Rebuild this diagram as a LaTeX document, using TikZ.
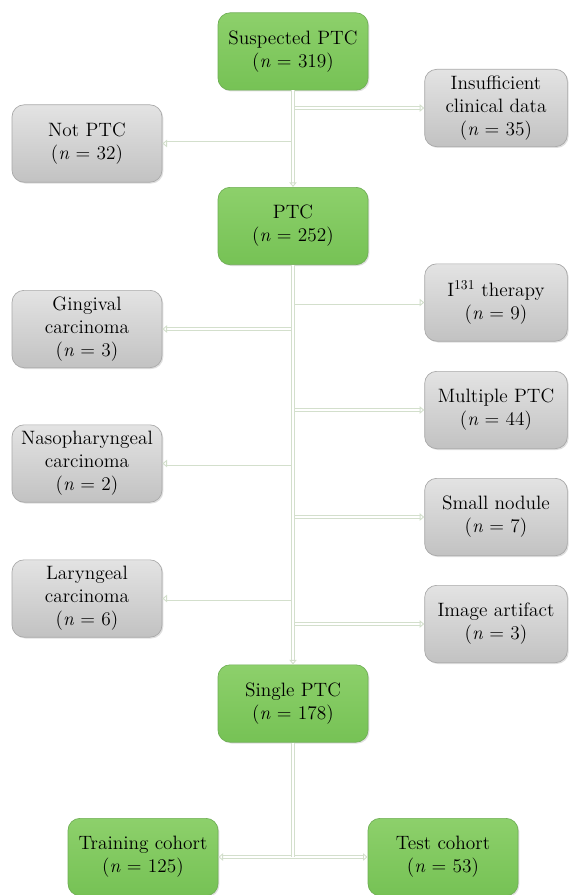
\documentclass[tikz,border=0pt]{standalone}
\usetikzlibrary{arrows.meta,shadows}
\definecolor{gtop}{HTML}{8DD06B}
\definecolor{gbot}{HTML}{76C255}
\definecolor{gedge}{HTML}{6FAE55}
\definecolor{ytop}{HTML}{E3E3E3}
\definecolor{ybot}{HTML}{C2C2C2}
\definecolor{yedge}{HTML}{A8A8A8}
\definecolor{lnc}{HTML}{D3DFCC}
\begin{document}
\begin{tikzpicture}[x=0.75pt,y=-0.75pt,
  every node/.style={font=\fontsize{14.5}{17.2}\selectfont, align=center, inner sep=0pt},
  greenbox/.style={rectangle, rounded corners=9pt, draw=gedge, line width=0.5pt,
     top color=gtop, bottom color=gbot, minimum width=112.5pt, minimum height=58pt,
     drop shadow={opacity=0.25, shadow xshift=1pt, shadow yshift=-1pt}},
  graybox/.style={rectangle, rounded corners=9pt, draw=yedge, line width=0.5pt,
     top color=ytop, bottom color=ybot, minimum width=112.5pt, minimum height=58pt,
     drop shadow={opacity=0.25, shadow xshift=1pt, shadow yshift=-1pt}},
  grayboxr/.style={graybox, minimum width=107pt},
  conn/.style={draw=lnc, line width=0.7pt, double=white, double distance=1.6pt},
  arr/.style={conn, -{Triangle[open, length=3.5pt, width=5.5pt]}}
]
\useasboundingbox (0,0) rectangle (573,895);

% green main boxes
\node[greenbox] (sus) at (293,51.5) {Suspected PTC\\(\textit{n} = 319)};
\node[greenbox] (ptc) at (293,226) {PTC\\(\textit{n} = 252)};
\node[greenbox] (single) at (293,703.5) {Single PTC\\(\textit{n} = 178)};
\node[greenbox] (train) at (143,857) {Training cohort\\(\textit{n} = 125)};
\node[greenbox] (test) at (443,857) {Test cohort\\(\textit{n} = 53)};

% left gray boxes
\node[graybox] (notptc) at (87,143.5) {Not PTC\\(\textit{n} = 32)};
\node[graybox] (ging) at (87,329) {Gingival\\carcinoma\\(\textit{n} = 3)};
\node[graybox] (naso) at (87,463.5) {Nasopharyngeal\\carcinoma\\(\textit{n} = 2)};
\node[graybox] (lary) at (87,598.5) {Laryngeal\\carcinoma\\(\textit{n} = 6)};

% right gray boxes
\node[grayboxr] (ins) at (496,108) {Insufficient\\clinical data\\(\textit{n} = 35)};
\node[grayboxr] (iod) at (496,302.5) {I\textsuperscript{131} therapy\\(\textit{n} = 9)};
\node[grayboxr] (mult) at (496,410) {Multiple PTC\\(\textit{n} = 44)};
\node[grayboxr] (small) at (496,517) {Small nodule\\(\textit{n} = 7)};
\node[grayboxr] (img) at (496,624) {Image artifact\\(\textit{n} = 3)};

% junction below Single PTC
\coordinate (split) at (single.south |- train.east);

% branches (drawn first, main line on top)
\draw[arr] (ins.west -| sus.south) -- (ins.west);
\draw[arr] (notptc.east -| sus.south) -- (notptc.east);
\draw[arr] (iod.west -| ptc.south) -- (iod.west);
\draw[arr] (ging.east -| ptc.south) -- (ging.east);
\draw[arr] (mult.west -| ptc.south) -- (mult.west);
\draw[arr] (naso.east -| ptc.south) -- (naso.east);
\draw[arr] (small.west -| ptc.south) -- (small.west);
\draw[arr] (lary.east -| ptc.south) -- (lary.east);
\draw[arr] (img.west -| ptc.south) -- (img.west);
\draw[arr] (split) -- (train.east);
\draw[arr] (split) -- (test.west);

% main line
\draw[arr] (sus.south) -- (ptc.north);
\draw[arr] (ptc.south) -- (single.north);
\draw[conn] (single.south) -- (split);
\end{tikzpicture}
\end{document}
